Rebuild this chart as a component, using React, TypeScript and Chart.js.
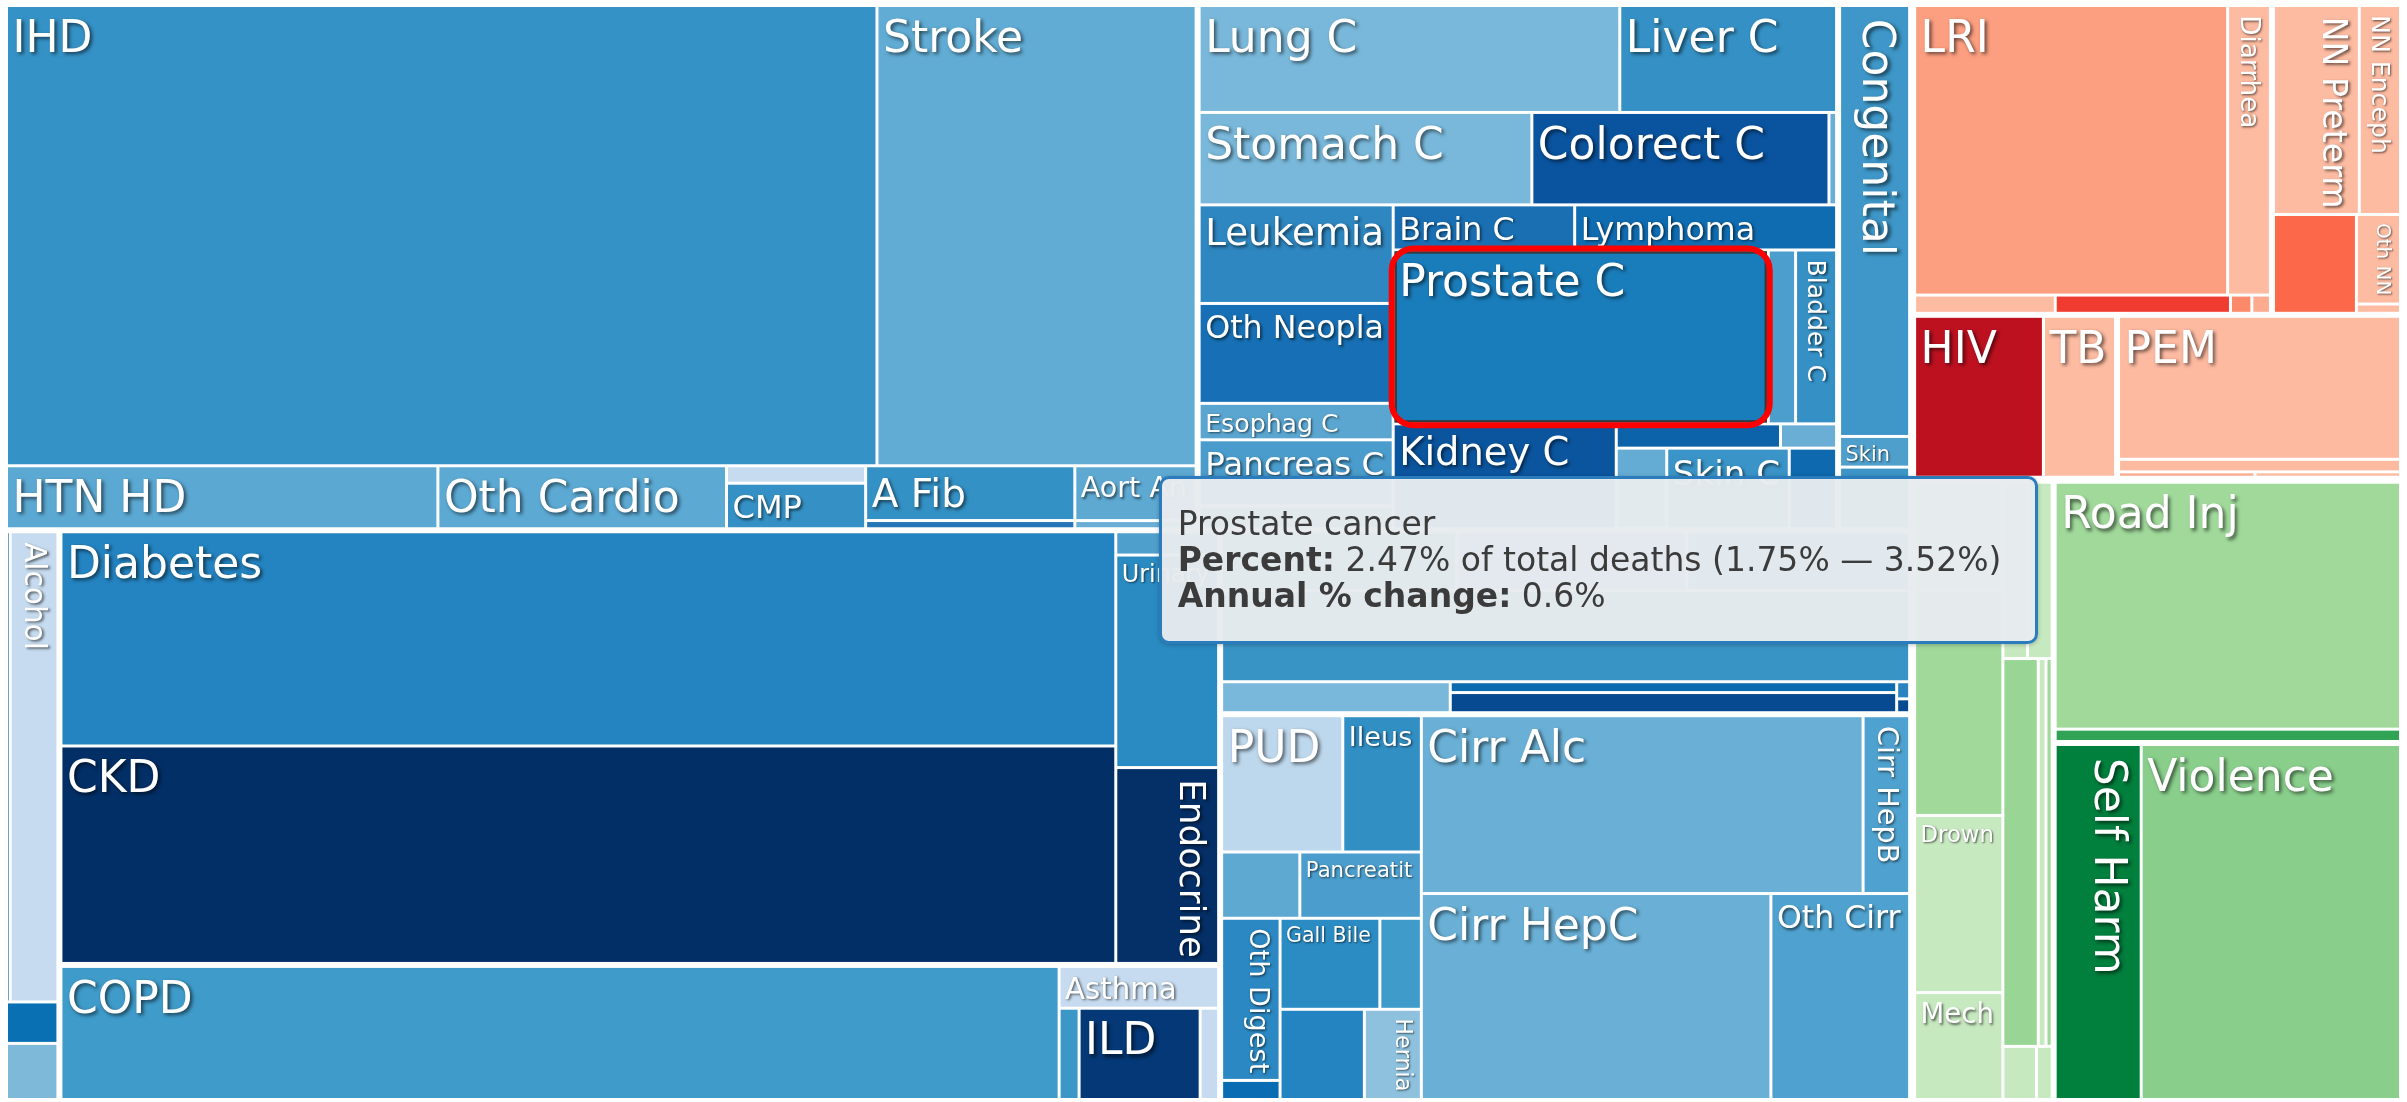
import React, { useEffect, useRef } from 'react';
import { Chart, registerables } from 'chart.js';

Chart.register(...registerables);

// ---------------- data: percent of total deaths ----------------
// Cardiovascular diseases
const cardioLabels = ['IHD', 'Stroke', 'HTN HD', 'Oth Cardio', '', 'CMP', 'A Fib', '', 'Aort An', ''];
const cardioValues = [15.3, 5.62, 1.06, 0.705, 0.092, 0.248, 0.434, 0.077, 0.255, 0.045];
// Neoplasms
const neoLabels = ['Lung C', 'Liver C', 'Stomach C', 'Colorect C', '', 'Leukemia', 'Oth Neopla', 'Esophag C', 'Pancreas C', '', 'Brain C', 'Lymphoma', 'Prostate C', '', 'Bladder C', 'Kidney C', '', '', '', '', 'Skin C', ''];
const neoValues = [1.75, 0.905, 1.17, 1.04, 0.032, 0.73, 0.74, 0.27, 0.49, 0.18, 0.31, 0.45, 2.47, 0.18, 0.28, 0.456, 0.443, 0.151, 0.053, 0.157, 0.381, 0.152];
// Other NCDs
const otherLabels = ['Congenital', 'Skin', ''];
const otherValues = [1.215, 0.086, 0.177];
// Substance use
const substLabels = ['', 'Alcohol', '', ''];
const substValues = [0.11, 0.88, 0.087, 0.123];
// Diabetes, kidney, urinary, endocrine
const metabLabels = ['Diabetes', 'CKD', '', 'Urinary', 'Endocrine'];
const metabValues = [8.63, 8.76, 0.098, 0.84, 0.78];
// Chronic respiratory
const respLabels = ['COPD', 'Asthma', '', 'ILD', ''];
const respValues = [5.19, 0.264, 0.071, 0.43, 0.071];
// Neurological & mental (mostly hidden by the tooltip)
const neuroLabels = ['', '', '', '', '', '', '', '', ''];
const neuroValues = [0.54, 0.525, 0.515, 2.39, 0.283, 0.183, 0.366, 0.01, 0.009];
// Digestive
const digestLabels = ['PUD', 'Ileus', '', 'Pancreatit', 'Oth Digest', '', 'Gall Bile', '', '', 'Hernia', 'Cirr Alc', 'Cirr HepB', 'Cirr HepC', 'Oth Cirr'];
const digestValues = [0.64, 0.41, 0.2, 0.305, 0.368, 0.049, 0.344, 0.143, 0.296, 0.2, 3.0, 0.333, 2.76, 1.115];
// Communicable, maternal, neonatal, nutritional
const commLabels = ['LRI', 'Diarrhea', '', '', '', '', 'NN Preterm', 'NN Enceph', '', 'Oth NN', '', 'HIV', 'TB', 'PEM', '', '', ''];
const commValues = [3.49, 0.49, 0.107, 0.131, 0.016, 0.015, 0.7, 0.35, 0.321, 0.158, 0.019, 0.82, 0.46, 1.565, 0.136, 0.041, 0.044];
// Injuries
const injLabels = ['Road Inj', '', 'Self Harm', 'Violence', '', '', 'Drown', 'Mech', '', '', '', '', '', '', ''];
const injValues = [3.3, 0.183, 1.19, 3.56, 0.381, 0.773, 0.609, 0.376, 0.167, 0.177, 0.52, 0.113, 0.113, 0.071, 0.036];

// Hovered cause (tooltip)
const hoverName = 'Prostate cancer';
const hoverInterval = [1.75, 3.52];
const hoverChange = 0.6;

// ---------------- styles ----------------
const cardioFill = ['#3592c6', '#61acd4', '#5ba8d3', '#5ca9d3', '#c6dbef', '#3591c5', '#3491c5', '#2476b8', '#5ea9d2', '#6aaed6'];
const neoFill = ['#79b8da', '#3591c5', '#79b8da', '#0a539e', '#6aaed6', '#2e87c1', '#1770b5', '#5aa6d1', '#4a9ccc', '#3d95c7', '#1a6fb3', '#0f6cb1', '#1a7dbb', '#4c9fcd', '#3590c5', '#0b559f', '#2e86c1', '#0c63a9', '#6aaed6', '#64acd4', '#3a94c7', '#0e69ae'];
const otherFill = ['#3e97c8', '#4f9fcd', '#3d95c7'];
const substFill = ['#1570b5', '#c6dbef', '#0a70b4', '#7fb9da'];
const metabFill = ['#2484c1', '#022f66', '#4f9fcd', '#2a8bc2', '#042f67'];
const respFill = ['#3f9bc9', '#c6dbef', '#3a97c8', '#043876', '#c6dbef'];
const neuroFill = ['#3590c5', '#5ea9d2', '#4a9dcc', '#3994c6', '#79b8da', '#0d6cb0', '#084a92', '#2b84c0', '#084b93'];
const digestFill = ['#bdd7ec', '#318fc4', '#5ea9d2', '#4a9dcc', '#2b88c2', '#0a6db3', '#2b8bc3', '#3f9bc9', '#2484c1', '#8ec1dd', '#6ab0d6', '#4fa2cf', '#6ab0d6', '#4fa2cf'];
const commFill = ['#fc9f81', '#fdbba1', '#fdbba1', '#f03b30', '#fc8a6a', '#fcab8f', '#fdbba1', '#fdbba1', '#fc694a', '#fdbba1', '#fdbba1', '#be1120', '#fdbba1', '#fdbaa1', '#fcbba1', '#fca98d', '#fcbba1'];
const injFill = ['#a1d99b', '#31a354', '#007f3d', '#89ce8b', '#c7e9c0', '#a1d99b', '#c7e9c0', '#c7e9c0', '#c7e9c0', '#c7e9c0', '#99d595', '#c7e9c0', '#a1d99b', '#c7e9c0', '#c7e9c0'];

const registry: Record<string, { labels: string[]; values: number[]; fill: string[] }> = {
  cardio: { labels: cardioLabels, values: cardioValues, fill: cardioFill },
  neo: { labels: neoLabels, values: neoValues, fill: neoFill },
  other: { labels: otherLabels, values: otherValues, fill: otherFill },
  subst: { labels: substLabels, values: substValues, fill: substFill },
  metab: { labels: metabLabels, values: metabValues, fill: metabFill },
  resp: { labels: respLabels, values: respValues, fill: respFill },
  neuro: { labels: neuroLabels, values: neuroValues, fill: neuroFill },
  digest: { labels: digestLabels, values: digestValues, fill: digestFill },
  comm: { labels: commLabels, values: commValues, fill: commFill },
  inj: { labels: injLabels, values: injValues, fill: injFill },
};

// ---------------- treemap structure (split directions only) ----------------
type Node = string | { d: 'h' | 'v'; c: Node[]; pad: number };
const H = (...c: Node[]): Node => ({ d: 'h', c, pad: 0 });
const V = (...c: Node[]): Node => ({ d: 'v', c, pad: 0 });
const G = (pad: number, n: Node): Node => (typeof n === 'string' ? n : { ...n, pad });
const T = (g: string) => (i: number) => `${g}:${i}`;
const cv = T('cardio'), ne = T('neo'), ot = T('other'), su = T('subst'), me = T('metab');
const re = T('resp'), nu = T('neuro'), di = T('digest'), co = T('comm'), ij = T('inj');

const tree: Node = H(
  G(1, V(
    H(
      G(1.5, V(H(cv(0), cv(1)), H(cv(2), cv(3), V(cv(4), cv(5)), V(cv(6), cv(7)), V(cv(8), cv(9))))),
      G(1.5, V(
        H(ne(0), ne(1)),
        H(ne(2), ne(3), ne(4)),
        H(
          V(ne(5), ne(6), ne(7), ne(8), ne(9)),
          V(
            H(ne(10), ne(11)),
            V(
              H(ne(12), ne(13), ne(14)),
              H(V(ne(15), ne(16)), V(H(ne(17), ne(18)), H(ne(19), ne(20), ne(21))))
            )
          )
        )
      )),
      G(1.5, V(ot(0), ot(1), ot(2)))
    ),
    H(
      G(1.5, V(H(su(0), su(1)), su(2), su(3))),
      V(
        G(1.5, H(V(me(0), me(1)), V(me(2), me(3), me(4)))),
        G(1.5, H(re(0), V(re(1), H(re(2), re(3), re(4)))))
      ),
      V(
        G(1.5, V(H(nu(0), nu(1), nu(2)), nu(3), H(nu(4), V(nu(5), nu(6)), V(nu(7), nu(8))))),
        G(1.5, H(
          V(H(di(0), di(1)), H(di(2), di(3)), H(V(di(4), di(5)), V(H(di(6), di(7)), H(di(8), di(9))))),
          V(H(di(10), di(11)), H(di(12), di(13)))
        ))
      )
    )
  )),
  V(
    G(1, V(
      H(
        G(1.5, V(H(co(0), co(1)), H(co(2), co(3), co(4), co(5)))),
        G(1.5, V(H(co(6), co(7)), H(co(8), V(co(9), co(10)))))
      ),
      H(G(1.5, H(co(11), co(12))), G(1.5, V(co(13), co(14), H(co(15), co(16)))))
    )),
    G(1, H(
      G(1.5, H(V(ij(4), ij(5), ij(6), ij(7)), V(H(ij(8), ij(9)), H(ij(10), ij(11), ij(12)), H(ij(13), ij(14))))),
      V(G(1.5, V(ij(0), ij(1))), G(1.5, H(ij(2), ij(3))))
    ))
  )
);

interface Box { x0: number; y0: number; x1: number; y1: number }
interface GBox extends Box { pad: number }
interface Cell extends Box { key: string; groups: GBox[] }

function lookup(key: string) {
  const [g, i] = key.split(':');
  const r = registry[g];
  const k = Number(i);
  return { label: r.labels[k], value: r.values[k], fill: r.fill[k] };
}
function total(n: Node): number {
  return typeof n === 'string' ? lookup(n).value : n.c.reduce((s, k) => s + total(k), 0);
}
function partition(n: Node, b: Box, groups: GBox[], out: Cell[]) {
  if (typeof n === 'string') {
    out.push({ key: n, ...b, groups });
    return;
  }
  const gs = n.pad ? [...groups, { ...b, pad: n.pad }] : groups;
  const sum = total(n);
  let pos = n.d === 'h' ? b.x0 : b.y0;
  for (const c of n.c) {
    const f = total(c) / sum;
    if (n.d === 'h') {
      const nx = pos + (b.x1 - b.x0) * f;
      partition(c, { x0: pos, y0: b.y0, x1: nx, y1: b.y1 }, gs, out);
      pos = nx;
    } else {
      const ny = pos + (b.y1 - b.y0) * f;
      partition(c, { x0: b.x0, y0: pos, x1: b.x1, y1: ny }, gs, out);
      pos = ny;
    }
  }
}
function dataCells(): Cell[] {
  const out: Cell[] = [];
  partition(tree, { x0: 0, y0: 0, x1: 1, y1: 1 }, [], out);
  return out;
}
function pixelBox(c: Cell, chart: any): Box {
  const xs = chart.scales.x, ys = chart.scales.y;
  let l = 1.5, t = 1.5, r = 1.5, b = 1.5;
  const eps = 1e-9;
  for (const g of c.groups) {
    if (Math.abs(c.x0 - g.x0) < eps) l += g.pad;
    if (Math.abs(c.x1 - g.x1) < eps) r += g.pad;
    if (Math.abs(c.y0 - g.y0) < eps) t += g.pad;
    if (Math.abs(c.y1 - g.y1) < eps) b += g.pad;
  }
  return {
    x0: xs.getPixelForValue(c.x0) + l,
    x1: xs.getPixelForValue(c.x1) - r,
    y0: ys.getPixelForValue(c.y0) + t,
    y1: ys.getPixelForValue(c.y1) - b,
  };
}

const FONT = '"DejaVu Sans", Verdana, sans-serif';
const HOVER_KEY = 'neo:12';

const treemapPlugin = {
  id: 'treemapCells',
  afterDatasetsDraw(chart: any) {
    const ctx: CanvasRenderingContext2D = chart.ctx;
    const cells = dataCells();
    const boxes = cells.map((c) => pixelBox(c, chart));
    ctx.save();
    cells.forEach((c, i) => {
      const b = boxes[i];
      ctx.fillStyle = lookup(c.key).fill;
      ctx.fillRect(b.x0, b.y0, b.x1 - b.x0, b.y1 - b.y0);
    });
    // labels
    cells.forEach((c, i) => {
      const label = lookup(c.key).label;
      if (!label) return;
      const b = boxes[i];
      const w = b.x1 - b.x0, h = b.y1 - b.y0;
      ctx.font = `100px ${FONT}`;
      const em = ctx.measureText(label).width / 100;
      const fH = Math.min(44, (w - 12) / em, 0.754 * h);
      let f = fH, rot = false;
      if (h > w && fH < 20) {
        const fR = Math.min(44, (h - 14) / em, 0.66 * w);
        if (fR > fH) { f = fR; rot = true; }
      }
      if (f < 17) return;
      ctx.save();
      ctx.beginPath();
      ctx.rect(b.x0, b.y0, w, h);
      ctx.clip();
      ctx.font = `${f}px ${FONT}`;
      ctx.fillStyle = '#ffffff';
      ctx.shadowColor = 'rgba(0,0,0,0.6)';
      ctx.shadowBlur = Math.max(2, f * 0.09);
      ctx.shadowOffsetX = Math.max(1, f * 0.05);
      ctx.shadowOffsetY = Math.max(1, f * 0.05);
      const d = 3 + 0.949 * f;
      if (!rot) {
        ctx.fillText(label, b.x0 + 4.5, b.y0 + d);
      } else {
        ctx.translate(b.x1, b.y0 + 3 + 0.2 * f);
        ctx.rotate(Math.PI / 2);
        ctx.fillText(label, 0, d);
      }
      ctx.restore();
    });
    // hovered cell highlight
    const hi = cells.findIndex((c) => c.key === HOVER_KEY);
    if (hi >= 0) {
      const b = boxes[hi];
      ctx.strokeStyle = 'rgba(55,55,55,0.95)';
      ctx.lineWidth = 2.5;
      ctx.strokeRect(b.x0 + 1, b.y0 + 1, b.x1 - b.x0 - 2, b.y1 - b.y0 - 2);
      ctx.strokeStyle = '#ff0000';
      ctx.lineWidth = 6;
      ctx.beginPath();
      (ctx as any).roundRect(b.x0 - 3, b.y0 - 3, b.x1 - b.x0 + 6, b.y1 - b.y0 + 6, 22);
      ctx.stroke();
    }
    ctx.restore();
  },
};

export default function App() {
  const canvasRef = useRef<HTMLCanvasElement | null>(null);
  const tipRef = useRef<HTMLDivElement | null>(null);

  useEffect(() => {
    document.body.style.margin = '0';
    const canvas = canvasRef.current;
    if (!canvas) return;
    const chart = new Chart(canvas, {
      type: 'scatter',
      data: { datasets: [{ data: [] }] },
      options: {
        animation: false,
        responsive: false,
        events: [],
        layout: { padding: { left: 4, top: 3, right: 4, bottom: 0 } },
        scales: {
          x: { type: 'linear', min: 0, max: 1, display: false },
          y: { type: 'linear', min: 0, max: 1, reverse: true, display: false },
        },
        plugins: { legend: { display: false }, tooltip: { enabled: false }, title: { display: false } },
      },
      plugins: [treemapPlugin as any],
    });
    const cell = dataCells().find((c) => c.key === HOVER_KEY);
    if (cell && tipRef.current) {
      const b = pixelBox(cell, chart);
      tipRef.current.style.left = `${b.x0 - 236}px`;
      tipRef.current.style.top = `${b.y1 + 54}px`;
      tipRef.current.style.display = 'block';
    }
    return () => chart.destroy();
  }, []);

  const pct = neoValues[12];
  return (
    <div style={{ position: 'relative', width: 2407, height: 1102, background: '#ffffff', overflow: 'hidden' }}>
      <canvas ref={canvasRef} width={2407} height={1102} style={{ display: 'block', width: 2407, height: 1102 }} />
      <div
        ref={tipRef}
        style={{
          display: 'none',
          position: 'absolute',
          width: 879,
          height: 168,
          boxSizing: 'border-box',
          background: 'rgba(231,235,238,0.97)',
          border: '3px solid #2a7cbc',
          borderRadius: 10,
          padding: '27px 0 0 16px',
          fontFamily: FONT,
          fontSize: 33,
          lineHeight: '36px',
          color: '#3b3b3b',
          whiteSpace: 'nowrap',
          boxShadow: '0 1px 4px rgba(0,0,0,0.25)',
        }}
      >
        <div>{hoverName}</div>
        <div>
          <b>Percent:</b> {pct.toFixed(2)}% of total deaths ({hoverInterval[0].toFixed(2)}% — {hoverInterval[1].toFixed(2)}%)
        </div>
        <div>
          <b>Annual % change:</b> {hoverChange.toFixed(1)}%
        </div>
      </div>
    </div>
  );
}
